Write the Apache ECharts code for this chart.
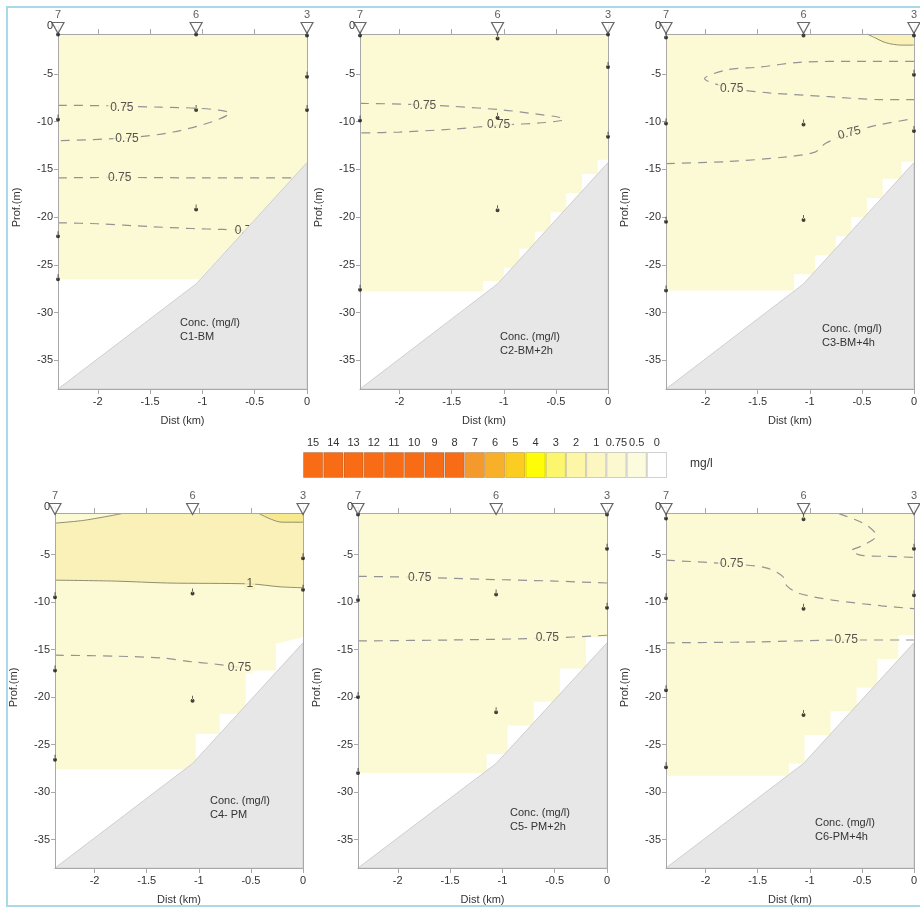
<!DOCTYPE html>
<html><head><meta charset="utf-8">
<script src="https://cdn.jsdelivr.net/npm/echarts@6/dist/echarts.min.js"></script>
<style>html,body{margin:0;padding:0;background:#fff}#c{width:920px;height:913px}</style>
</head><body><div id="c"></div>
<script>
// ---------------- data ----------------
const panelNames = ['C1-BM', 'C2-BM+2h', 'C3-BM+4h', 'C4- PM', 'C5- PM+2h', 'C6-PM+4h'];
const concTitle = 'Conc. (mg/l)';
const stationNames = ['7', '6', '3'];
const stationX = [-2.38, -1.06, 0];
const distRange = [-2.38, 0];
const depthRange = [-38, 0];
const bathymetry = [[-2.38, -38], [-1.06, -27], [0, -14.3], [0, -38]];
const legendLabels = ['15', '14', '13', '12', '11', '10', '9', '8', '7', '6', '5', '4', '3', '2', '1', '0.75', '0.5', '0'];
const legendColors = ['#f86c16', '#f86c16', '#f86c16', '#f86c16', '#f86c16', '#f86c16', '#f86c16', '#f86c16',
  '#f49a2c', '#f8b02a', '#fbcd21', '#fefc06', '#fcf56e', '#fdf6a6', '#fcf7c0', '#fcf9d0', '#fdfbdd', '#ffffff'];

// C1-BM
const c1Fill = [[-2.38, -0.84], [0, -0.84], [0, -14.3], [-1.03, -26.5], [-2.38, -26.5]];
const c1Dashed = [
  [[-2.38, -8.3], [-1.9, -8.35], [-1.4, -8.5], [-1.06, -8.6], [-0.85, -8.8], [-0.74, -9.1], [-0.9, -10.0], [-1.28, -11.1], [-1.7, -11.7], [-2.38, -12.0]],
  [[-2.38, -15.9], [-1.8, -15.85], [-1.0, -15.9], [-0.15, -15.9]],
  [[-2.38, -20.6], [-2.0, -20.7], [-1.5, -21.0], [-1.1, -21.2], [-0.8, -21.3], [-0.6, -21.4]]
];
const c1Labels = [[-1.77, -8.5, '0.75', 0], [-1.72, -11.8, '0.75', 0], [-1.79, -15.9, '0.75', 0], [-0.58, -21.4, '0.75', 0]];
const c1Samples = [[-2.38, -0.9], [-2.38, -9.8], [-2.38, -22], [-2.38, -26.5], [-1.06, -0.9], [-1.06, -8.8], [-1.06, -19.2], [0, -1.0], [0, -5.3], [0, -8.8]];

// C2-BM+2h
const c2Fill = [[-2.38, -0.84], [0, -0.84], [0, -14.0], [-0.1, -14.0], [-0.1, -15.5], [-0.25, -15.5], [-0.25, -17.5], [-0.4, -17.5], [-0.4, -19.5], [-0.55, -19.5], [-0.55, -21.5], [-0.7, -21.5], [-0.7, -23.3], [-0.85, -23.3], [-0.85, -25.3], [-1.0, -25.3], [-1.0, -26.7], [-1.2, -26.7], [-1.2, -27.8], [-2.38, -27.8]];
const c2Dashed = [
  [[-2.38, -8.1], [-1.9, -8.2], [-1.5, -8.4], [-1.0, -8.8], [-0.7, -9.2], [-0.47, -9.55], [-0.42, -9.8], [-0.6, -10.1], [-1.05, -10.4], [-1.5, -10.8], [-2.0, -11.1], [-2.38, -11.2]]
];
const c2Labels = [[-1.76, -8.3, '0.75', 0], [-1.05, -10.3, '0.75', 0]];
const c2Samples = [[-2.38, -1.0], [-2.38, -9.9], [-2.38, -27.6], [-1.06, -1.3], [-1.06, -9.6], [-1.06, -19.3], [0, -0.9], [0, -4.3], [0, -11.6]];

// C3-BM+4h
const c3Fill = [[-2.38, -0.84], [0, -0.84], [0, -14.2], [-0.12, -14.2], [-0.12, -16], [-0.3, -16], [-0.3, -18], [-0.45, -18], [-0.45, -20], [-0.6, -20], [-0.6, -22], [-0.75, -22], [-0.75, -24], [-0.95, -24], [-0.95, -26], [-1.15, -26], [-1.15, -27.7], [-2.38, -27.7]];
const c3Level1 = [[-0.45, -0.84], [-0.38, -1.2], [-0.27, -1.75], [-0.12, -2.0], [0, -2.0], [0, -0.84]];
const c3Solid = [[[-0.45, -0.84], [-0.38, -1.2], [-0.27, -1.75], [-0.12, -2.0], [0, -2.0]]];
const c3Dashed = [
  [[0, -3.7], [-0.53, -3.7], [-1.1, -3.8], [-1.48, -4.3], [-1.8, -4.6], [-2.01, -5.5], [-1.75, -6.5], [-1.39, -7.0], [-0.81, -7.4], [-0.33, -7.7], [0, -7.7]],
  [[-2.38, -14.4], [-1.8, -14.2], [-1.22, -13.7], [-0.95, -13.2], [-0.85, -12.3], [-0.62, -11.2], [-0.36, -10.4], [0, -9.7]]
];
const c3Labels = [[-1.75, -6.6, '0.75', 0], [-0.62, -11.2, '0.75', 15]];
const c3Samples = [[-2.38, -1.2], [-2.38, -10.2], [-2.38, -20.5], [-2.38, -27.7], [-1.06, -1.0], [-1.06, -10.3], [-1.06, -20.3], [0, -1.0], [0, -5.1], [0, -11.0]];

// C4- PM
const c4Fill = [[-2.38, -0.7], [0, -0.7], [0, -13.7], [-0.26, -14.4], [-0.26, -17.2], [-0.55, -17.2], [-0.55, -21.8], [-0.8, -21.8], [-0.8, -23.9], [-1.03, -23.9], [-1.03, -27.6], [-2.38, -27.6]];
const c4Level1 = [[-2.38, -1.7], [-2.1, -1.4], [-1.74, -0.7], [0, -0.7], [0, -8.5], [-0.22, -8.4], [-0.5, -8.1], [-1.3, -8.0], [-1.8, -7.8], [-2.38, -7.7]];
const c4Level2 = [[-0.42, -0.7], [-0.2, -1.6], [0, -1.6], [0, -0.7]];
const c4Solid = [
  [[-2.38, -1.7], [-2.1, -1.4], [-1.74, -0.7]],
  [[-2.38, -7.7], [-1.8, -7.8], [-1.3, -8.0], [-0.5, -8.1], [-0.22, -8.4], [0, -8.5]],
  [[-0.42, -0.7], [-0.2, -1.6], [0, -1.6]]
];
const c4Dashed = [[[-2.38, -15.6], [-1.8, -15.7], [-1.35, -15.9], [-1.06, -16.3], [-0.87, -16.5], [-0.6, -16.9]]];
const c4Labels = [[-0.51, -8.1, '1', 0], [-0.61, -16.9, '0.75', 0]];
const c4Samples = [[-2.38, -9.5], [-2.38, -17.2], [-2.38, -26.6], [-1.06, -9.1], [-1.06, -20.4], [0, -5.4], [0, -8.7]];

// C5- PM+2h
const c5Fill = [[-2.38, -0.7], [0, -0.7], [0, -13.7], [-0.2, -13.7], [-0.2, -17], [-0.45, -17], [-0.45, -20.5], [-0.7, -20.5], [-0.7, -23], [-0.95, -23], [-0.95, -26], [-1.15, -26], [-1.15, -28], [-2.38, -28]];
const c5Dashed = [
  [[-2.38, -7.3], [-1.79, -7.4], [-1.2, -7.6], [-0.5, -7.8], [0, -8.0]],
  [[-2.38, -14.1], [-1.5, -14.0], [-0.57, -13.8], [0, -13.5]]
];
const c5Labels = [[-1.79, -7.4, '0.75', 0], [-0.57, -13.8, '0.75', 0]];
const c5Samples = [[-2.38, -0.8], [-2.38, -9.8], [-2.38, -20], [-2.38, -28], [-1.06, -9.2], [-1.06, -21.6], [0, -0.8], [0, -4.4], [0, -10.6]];

// C6-PM+4h
const c6Fill = [[-2.38, -0.7], [0, -0.7], [0, -13.5], [-0.15, -13.5], [-0.15, -16], [-0.35, -16], [-0.35, -19], [-0.55, -19], [-0.55, -21.5], [-0.8, -21.5], [-0.8, -24], [-1.05, -24], [-1.05, -27], [-1.2, -27], [-1.2, -28.3], [-2.38, -28.3]];
const c6Dashed = [
  [[-2.38, -5.6], [-1.75, -6.0], [-1.42, -6.4], [-1.26, -7.3], [-1.22, -8.3], [-1.1, -9.1], [-0.78, -9.8], [-0.31, -10.4], [0, -10.7]],
  [[-0.72, -0.7], [-0.55, -1.4], [-0.43, -2.1], [-0.36, -3.0], [-0.48, -4.0], [-0.6, -4.6], [-0.5, -5.1], [-0.25, -5.2], [0, -5.3]],
  [[-2.38, -14.3], [-1.5, -14.2], [-0.65, -14.0], [0, -14.0]]
];
const c6Labels = [[-1.75, -6.0, '0.75', 0], [-0.65, -14.0, '0.75', 0]];
const c6Samples = [[-2.38, -1.2], [-2.38, -9.6], [-2.38, -19.3], [-2.38, -27.4], [-1.06, -1.3], [-1.06, -10.7], [-1.06, -21.9], [0, -4.4], [0, -9.3]];

// ---------------- chart ----------------
const panels = [
  {fill: c1Fill, level1: [], level2: [], solid: [], dashed: c1Dashed, labels: c1Labels, samples: c1Samples},
  {fill: c2Fill, level1: [], level2: [], solid: [], dashed: c2Dashed, labels: c2Labels, samples: c2Samples},
  {fill: c3Fill, level1: [c3Level1], level2: [], solid: c3Solid, dashed: c3Dashed, labels: c3Labels, samples: c3Samples},
  {fill: c4Fill, level1: [c4Level1], level2: [c4Level2], solid: c4Solid, dashed: c4Dashed, labels: c4Labels, samples: c4Samples},
  {fill: c5Fill, level1: [], level2: [], solid: [], dashed: c5Dashed, labels: c5Labels, samples: c5Samples},
  {fill: c6Fill, level1: [], level2: [], solid: [], dashed: c6Dashed, labels: c6Labels, samples: c6Samples}
];

const FONT = '"Liberation Sans", Arial, sans-serif';
const CREAM = '#fcfad4', BAND = '#faf1b9', CORE = '#f7ea8e', GROUND = '#e7e7e7';
const AXIS = '#a8a8a8', TXT = '#333';
const PIN = 'path://M1.6,0h0.8v4h-0.8z M0,5a2,2 0 1,0 4,0a2,2 0 1,0 -4,0z';

const grids = [
  {left: 58, top: 26, width: 249, height: 363},
  {left: 360, top: 26, width: 248, height: 363},
  {left: 666, top: 26, width: 249, height: 363},
  {left: 55, top: 507, width: 248, height: 361},
  {left: 358, top: 507, width: 249, height: 361},
  {left: 666, top: 507, width: 249, height: 361},
  {left: 303, top: 452, width: 364, height: 26}
];
const topOffset = [-8, -8, -8, -6, -6, -6];
const textPos = [[180, 316], [500, 330], [822, 322], [210, 794], [510, 806], [815, 816]];

const xAxes = [], yAxes = [], series = [], graphics = [];

function polygon(i, pts, fill, stroke, z) {
  series.push({
    type: 'custom', xAxisIndex: 2 * i, yAxisIndex: 2 * i, z: z, silent: true,
    data: [[pts[0][0], pts[0][1]]],
    renderItem: function (params, api) {
      return {type: 'polygon', shape: {points: pts.map(p => api.coord(p))},
        style: {fill: fill, stroke: stroke || null, lineWidth: 1}};
    }
  });
}

panels.forEach((p, i) => {
  xAxes.push({
    gridIndex: i, type: 'value', min: distRange[0], max: distRange[1], splitNumber: 5,
    minInterval: 0.5, maxInterval: 0.5, position: 'bottom', z: 10,
    axisLine: {show: true, onZero: false, lineStyle: {color: AXIS}},
    axisTick: {show: true, length: 5, lineStyle: {color: AXIS}},
    axisLabel: {color: TXT, fontSize: 11, fontFamily: FONT, showMinLabel: false, showMaxLabel: true, margin: 7},
    splitLine: {show: false},
    name: 'Dist (km)', nameLocation: 'middle', nameGap: 26,
    nameTextStyle: {color: TXT, fontSize: 11, fontFamily: FONT}
  });
  xAxes.push({
    gridIndex: i, type: 'value', min: distRange[0], max: distRange[1], splitNumber: 5,
    minInterval: 0.5, maxInterval: 0.5, position: 'top', offset: topOffset[i], z: 10,
    axisLine: {show: true, onZero: false, lineStyle: {color: AXIS}},
    axisTick: {show: true, length: 5, lineStyle: {color: AXIS}},
    axisLabel: {show: false}, splitLine: {show: false}
  });
  yAxes.push({
    gridIndex: i, type: 'value', min: depthRange[0], max: depthRange[1], splitNumber: 8,
    minInterval: 5, maxInterval: 5, position: 'left', z: 10,
    axisLine: {show: true, onZero: false, lineStyle: {color: AXIS}},
    axisTick: {show: true, length: 4, lineStyle: {color: AXIS}},
    axisLabel: {color: TXT, fontSize: 11, fontFamily: FONT, showMinLabel: false, showMaxLabel: true, margin: 5},
    splitLine: {show: false},
    name: 'Prof.(m)', nameLocation: 'middle', nameGap: 36, nameRotate: 90,
    nameTextStyle: {color: TXT, fontSize: 11, fontFamily: FONT}
  });
  yAxes.push({
    gridIndex: i, type: 'value', min: depthRange[0], max: depthRange[1], splitNumber: 8,
    minInterval: 5, maxInterval: 5, position: 'right', z: 10,
    axisLine: {show: true, onZero: false, lineStyle: {color: AXIS}},
    axisTick: {show: false},
    axisLabel: {show: false}, splitLine: {show: false}
  });

  polygon(i, p.fill, CREAM, null, 1);
  p.level1.forEach(pts => polygon(i, pts, BAND, null, 2));
  p.level2.forEach(pts => polygon(i, pts, CORE, null, 2));

  p.solid.forEach(line => series.push({
    type: 'line', xAxisIndex: 2 * i, yAxisIndex: 2 * i, z: 3, data: line, smooth: 0.3,
    symbol: 'none', silent: true, lineStyle: {color: '#8f8f6f', width: 1}
  }));
  p.dashed.forEach(line => series.push({
    type: 'line', xAxisIndex: 2 * i, yAxisIndex: 2 * i, z: 3, data: line, smooth: 0.3,
    symbol: 'none', silent: true, lineStyle: {color: '#939393', width: 1.2, type: [9, 7]}
  }));
  series.push({
    type: 'scatter', xAxisIndex: 2 * i, yAxisIndex: 2 * i, z: 4, silent: true,
    symbolSize: 1, itemStyle: {color: 'rgba(0,0,0,0)'},
    data: p.labels.map(l => ({
      value: [l[0], l[1], l[2]],
      label: {rotate: l[3], backgroundColor: l[2] === '1' ? BAND : CREAM}
    })),
    label: {show: true, position: 'inside', formatter: pr => pr.value[2], color: '#2a2a2a',
      fontSize: 12, fontFamily: FONT, padding: [0, 2]}
  });

  polygon(i, bathymetry, GROUND, '#cfcfcf', 5);

  series.push({
    type: 'scatter', xAxisIndex: 2 * i, yAxisIndex: 2 * i, z: 11, silent: true,
    symbol: PIN, symbolSize: [4, 7], symbolOffset: [0, -1.5], itemStyle: {color: '#111'}, data: p.samples
  });
  series.push({
    type: 'scatter', xAxisIndex: 2 * i, yAxisIndex: 2 * i, z: 12, silent: true, clip: false,
    symbol: 'triangle', symbolRotate: 180, symbolSize: [12, 11], symbolOffset: [0, 2],
    itemStyle: {color: '#fff', borderColor: '#444', borderWidth: 1.2},
    data: stationX.map((x, k) => ({value: [x, depthRange[1]], name: stationNames[k]})),
    label: {show: true, position: 'top', distance: 1, formatter: pr => pr.name,
      color: TXT, fontSize: 11, fontFamily: FONT}
  });

  graphics.push({type: 'text', left: textPos[i][0], top: textPos[i][1], z: 100,
    style: {text: concTitle + '\n' + panelNames[i], fill: TXT, font: '11px ' + FONT, lineHeight: 14}});
});

// legend colour bar
xAxes.push({
  gridIndex: 6, type: 'category', data: legendLabels, position: 'top',
  axisLine: {show: false}, axisTick: {show: false},
  axisLabel: {interval: 0, color: TXT, fontSize: 11, fontFamily: FONT, margin: 4}
});
yAxes.push({gridIndex: 6, type: 'value', min: 0, max: 1, show: false});
series.push({
  type: 'bar', xAxisIndex: 12, yAxisIndex: 12, barCategoryGap: '0%', silent: true,
  data: legendLabels.map((l, k) => ({value: 1, itemStyle: {color: legendColors[k]}})),
  itemStyle: {borderColor: 'rgba(0,0,0,0.18)', borderWidth: 1}
});

graphics.push({type: 'text', left: 690, top: 458, z: 100, style: {text: 'mg/l', fill: TXT, font: '12px ' + FONT}});
graphics.push({type: 'rect', shape: {x: 7, y: 7, width: 930, height: 899},
  style: {fill: 'none', stroke: '#a9d8e6', lineWidth: 2}, z: 100});

const chart = echarts.init(document.getElementById('c'), null, {renderer: 'canvas'});
chart.setOption({
  animation: false,
  backgroundColor: '#fff',
  textStyle: {fontFamily: FONT},
  grid: grids.map(g => Object.assign({containLabel: false}, g)),
  xAxis: xAxes, yAxis: yAxes, series: series, graphic: graphics
});
</script></body></html>
